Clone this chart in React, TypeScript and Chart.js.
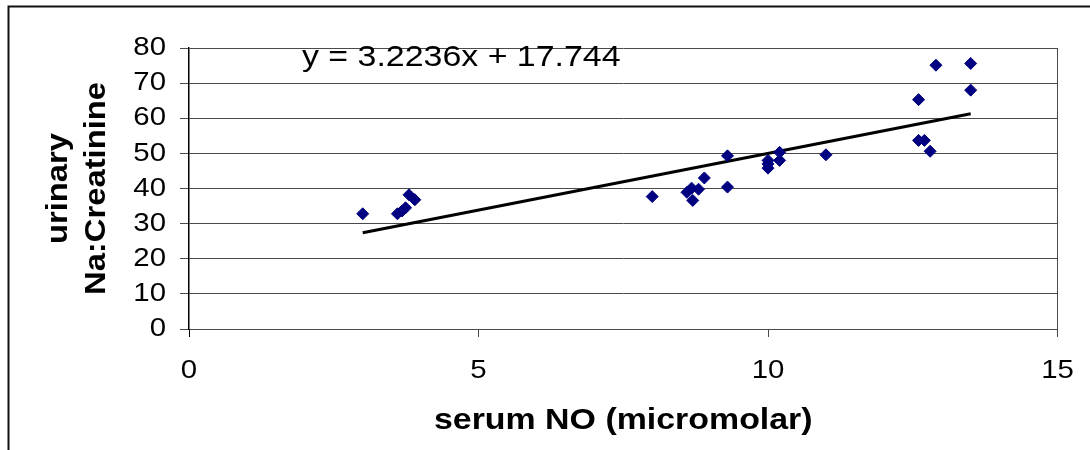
import React, { useEffect, useRef } from "react";
import { Chart, registerables } from "chart.js";

Chart.register(...registerables);

// ---- data ----
const serumNO = [
  3.0, 3.6, 3.68, 3.74, 3.8, 3.9,
  8.0, 8.6, 8.68, 8.7, 8.8, 8.9, 9.3, 9.3,
  10.0, 10.0, 10.0, 10.2, 10.2, 11.0,
  12.9, 13.5, 12.6, 13.5, 12.6, 12.7, 12.8,
];
const urinaryNaCr = [
  32.8, 32.8, 33.6, 34.5, 38.2, 36.8,
  37.7, 38.9, 40.1, 36.6, 39.8, 43.0, 49.3, 40.4,
  48.0, 47.0, 45.8, 50.3, 48.0, 49.6,
  75.1, 75.6, 65.3, 68.0, 53.7, 53.7, 50.6,
];
const xTicks = [0, 5, 10, 15];
const yTicks = [0, 10, 20, 30, 40, 50, 60, 70, 80];
const SLOPE = 3.2236;
const INTERCEPT = 17.744;
const equationLabel = "y = 3.2236x + 17.744";
const xTitle = "serum NO (micromolar)";
const yTitle = ["urinary", "Na:Creatinine"];

const FONT = '"Liberation Sans", Arial, Helvetica, sans-serif';
const GRID = "#4a4a4a";
// the reference's text is rendered slightly wider than its height suggests
const TEXT_STRETCH = 1.13;

const annotations = {
  id: "annotations",
  afterDraw(chart: any) {
    const { ctx, chartArea } = chart;
    ctx.save();
    ctx.font = `30px ${FONT}`;
    ctx.fillStyle = "#000";
    ctx.textBaseline = "alphabetic";
    ctx.textAlign = "left";
    ctx.fillText(equationLabel, chartArea.left + 113, chartArea.top + 18);
    // outer frame (left + top edges visible)
    ctx.strokeStyle = "#111";
    ctx.lineWidth = 2;
    ctx.beginPath();
    ctx.moveTo(8.5, chart.height);
    ctx.lineTo(8.5, 6.5);
    ctx.lineTo(chart.width, 6.5);
    ctx.stroke();
    ctx.restore();
  },
};

export default function App() {
  const ref = useRef<HTMLCanvasElement>(null);

  useEffect(() => {
    const canvas = ref.current!;
    const ctx2d = canvas.getContext("2d") as any;
    const origFillText = ctx2d.fillText.bind(ctx2d);
    ctx2d.fillText = (text: string, x: number, y: number, maxWidth?: number) => {
      ctx2d.save();
      ctx2d.translate(x, y);
      ctx2d.scale(TEXT_STRETCH, 1);
      if (maxWidth === undefined) origFillText(text, 0, 0);
      else origFillText(text, 0, 0, maxWidth / TEXT_STRETCH);
      ctx2d.restore();
    };

    Chart.defaults.font.family = FONT;
    const points = serumNO.map((x, i) => ({ x, y: urinaryNaCr[i] }));
    const xMin = Math.min(...serumNO);
    const xMax = Math.max(...serumNO);
    const trend = [xMin, xMax].map((x) => ({ x, y: SLOPE * x + INTERCEPT }));

    const chart = new Chart(canvas, {
      type: "scatter",
      data: {
        datasets: [
          {
            label: "urinary Na:Creatinine",
            data: points,
            pointStyle: "rectRot",
            pointRadius: 6,
            pointHoverRadius: 6,
            backgroundColor: "#000080",
            borderColor: "#000080",
            borderWidth: 1,
            showLine: false,
            order: 1,
          },
          {
            type: "line",
            label: "Linear trend",
            data: trend,
            borderColor: "#000",
            borderWidth: 3,
            pointRadius: 0,
            showLine: true,
            fill: false,
            order: 2,
          } as any,
        ],
      },
      options: {
        responsive: false,
        animation: false,
        devicePixelRatio: 1,
        layout: { padding: { top: 48, right: 30, left: 0, bottom: 0 } },
        plugins: { legend: { display: false }, tooltip: { enabled: false } },
        scales: {
          x: {
            type: "linear",
            min: 0,
            max: 15,
            afterBuildTicks: (s: any) => {
              s.ticks = xTicks.map((v) => ({ value: v }));
            },
            afterFit: (s: any) => {
              s.height = 121;
            },
            grid: {
              color: (c: any) => (c.tick && c.tick.value === 15 ? GRID : "rgba(0,0,0,0)"),
              tickColor: (c: any) => (c.tick && c.tick.value === 0 ? "#000" : GRID),
              lineWidth: 1,
              tickLength: 8,
              drawTicks: true,
            },
            border: { display: true, color: GRID, width: 1 },
            ticks: { color: "#000", font: { size: 26 }, padding: 18, maxRotation: 0 },
            title: {
              display: true,
              text: xTitle,
              color: "#000",
              font: { size: 30, weight: "bold" },
              padding: { top: 0, bottom: 11 },
            },
          },
          y: {
            type: "linear",
            min: 0,
            max: 80,
            afterBuildTicks: (s: any) => {
              s.ticks = yTicks.map((v) => ({ value: v }));
            },
            afterFit: (s: any) => {
              s.width = 189;
            },
            grid: {
              color: GRID,
              tickColor: GRID,
              lineWidth: 1,
              tickLength: 9,
              drawTicks: true,
            },
            border: { display: true, color: "#000", width: 1.5 },
            ticks: { color: "#000", font: { size: 26 }, padding: 14 },
            title: {
              display: true,
              text: yTitle,
              color: "#000",
              font: { size: 29, weight: "bold", lineHeight: 1.3 },
              padding: { top: 40, bottom: 0 },
            },
          },
        },
      },
      plugins: [annotations],
    });
    return () => {
      chart.destroy();
      delete ctx2d.fillText;
    };
  }, []);

  return (
    <div
      style={{
        position: "fixed",
        left: 0,
        top: 0,
        width: 1090,
        height: 450,
        background: "#fff",
      }}
    >
      <canvas ref={ref} width={1090} height={450} style={{ display: "block" }} />
    </div>
  );
}
